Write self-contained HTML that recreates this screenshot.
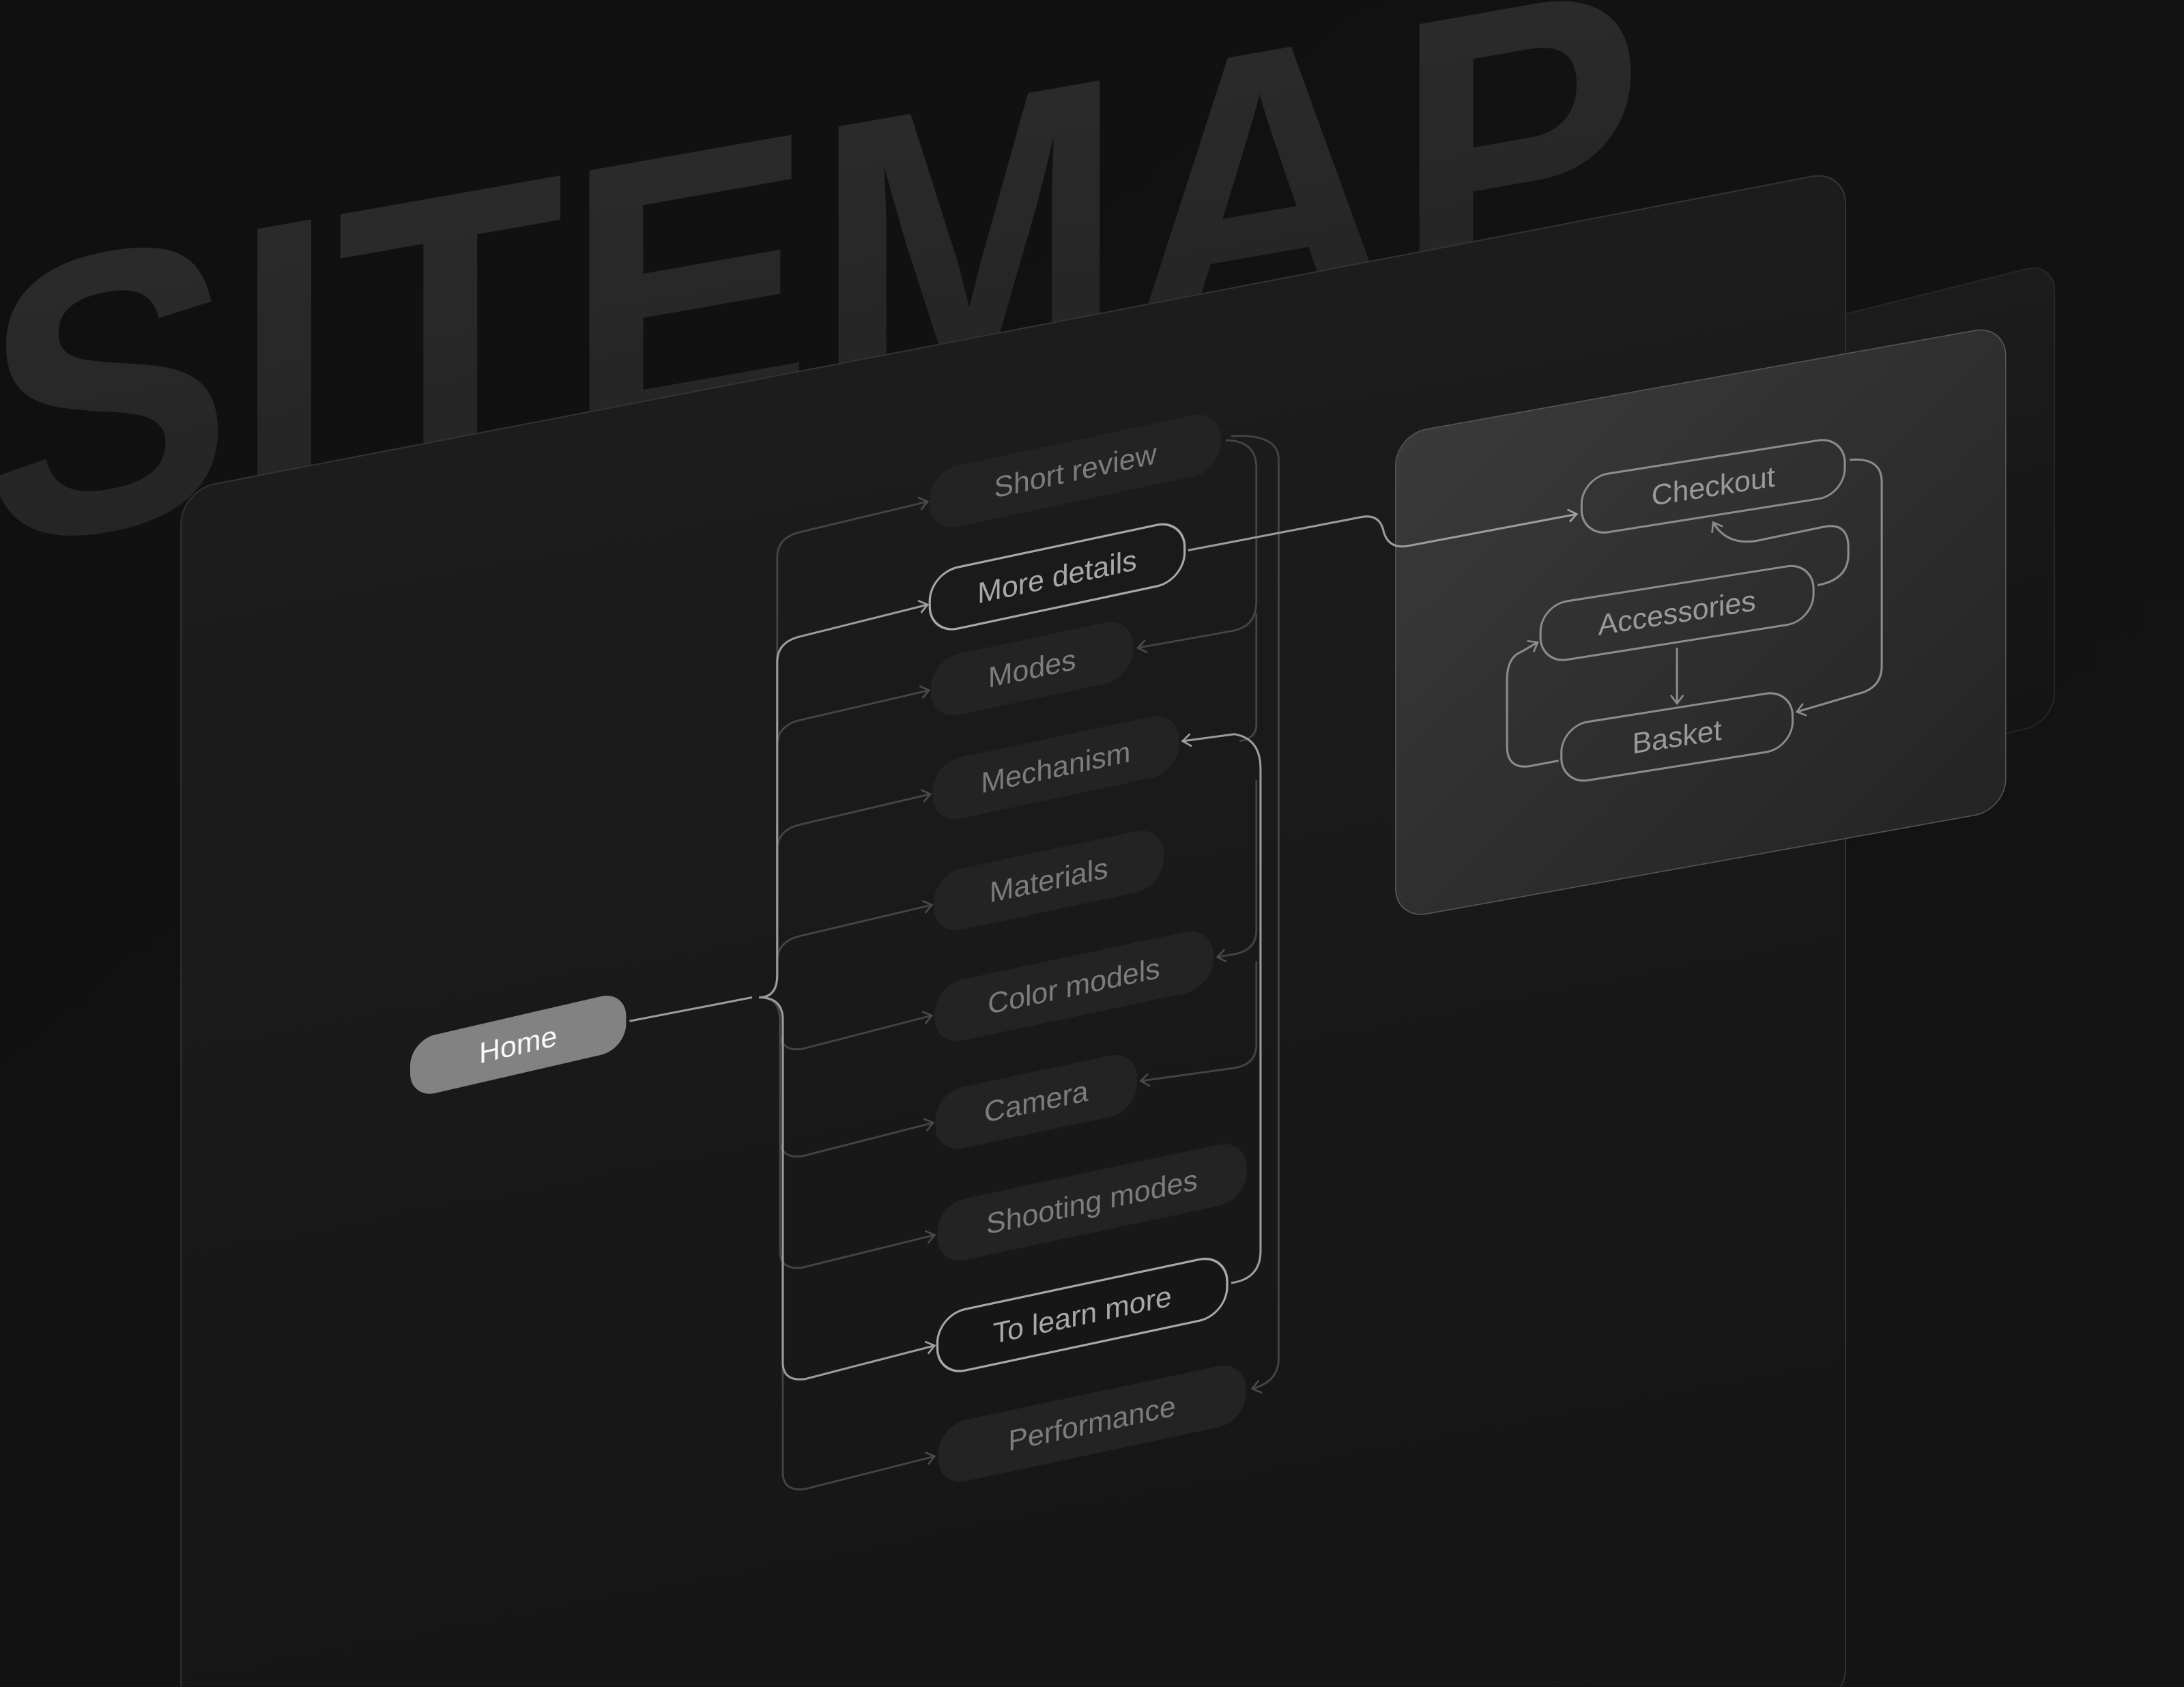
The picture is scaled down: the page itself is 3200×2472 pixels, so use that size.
<!DOCTYPE html>
<html><head><meta charset="utf-8"><style>
html,body{margin:0;padding:0;background:#111;width:3200px;height:2472px;overflow:hidden;}
svg{display:block;}
text{font-family:"Liberation Sans",sans-serif;}
</style></head><body>
<svg width="3200" height="2472" viewBox="0 0 1568 1211" xmlns="http://www.w3.org/2000/svg">
<defs>
<linearGradient id="bg" x1="0" y1="0" x2="1" y2="1"><stop offset="0" stop-color="#101010"/><stop offset="1" stop-color="#141414"/></linearGradient>
<linearGradient id="txt" x1="0" y1="0" x2="0" y2="1"><stop offset="0" stop-color="#2c2c2c"/><stop offset="1" stop-color="#232323"/></linearGradient>
<linearGradient id="panel" x1="0" y1="0" x2="0" y2="1"><stop offset="0" stop-color="#1c1c1c"/><stop offset="1" stop-color="#151515"/></linearGradient>
<linearGradient id="card" x1="0" y1="0" x2="1" y2="1"><stop offset="0" stop-color="#3a3a3a"/><stop offset="1" stop-color="#242424"/></linearGradient>
<linearGradient id="back" x1="0" y1="0" x2="0" y2="1"><stop offset="0" stop-color="#1c1c1c"/><stop offset="1" stop-color="#141414"/></linearGradient>
<marker id="ad" markerUnits="userSpaceOnUse" markerWidth="12" markerHeight="12" refX="7" refY="5" orient="auto" viewBox="0 0 12 10"><path d="M1,0.5 L7,5 L1,9.5" fill="none" stroke="#4a4a4a" stroke-width="1.3"/></marker>
<marker id="al" markerUnits="userSpaceOnUse" markerWidth="12" markerHeight="12" refX="7" refY="5" orient="auto" viewBox="0 0 12 10"><path d="M1,0.5 L7,5 L1,9.5" fill="none" stroke="#a0a0a0" stroke-width="1.3"/></marker>
<marker id="ac" markerUnits="userSpaceOnUse" markerWidth="12" markerHeight="12" refX="7" refY="5" orient="auto" viewBox="0 0 12 10"><path d="M1,0.5 L7,5 L1,9.5" fill="none" stroke="#8c8c8c" stroke-width="1.3"/></marker>
</defs>
<rect width="1568" height="1211" fill="url(#bg)"/>

<!-- SITEMAP title -->
<g transform="translate(-12,395) skewY(-10)">
<text x="0" y="0" font-size="285" font-weight="bold" fill="url(#txt)" textLength="1192" lengthAdjust="spacingAndGlyphs">SITEMAP</text>
</g>

<!-- back panel -->
<g transform="translate(1178,262) skewY(-14)">
<rect x="0" y="0" width="297" height="330" rx="20" fill="url(#back)" stroke="#262626" stroke-width="1"/>
</g>

<!-- main panel -->
<g transform="translate(130,352) skewY(-10.9)">
<rect x="0" y="0" width="1195" height="1100" rx="24" fill="url(#panel)" stroke="#333" stroke-width="1"/>
</g>

<!-- checkout card -->
<g transform="translate(1002,312) skewY(-10.2)">
<rect x="0" y="0" width="438" height="348" rx="22" fill="url(#card)" stroke="#555" stroke-width="0.8"/>
</g>

<!-- left branches (dark) -->
<g fill="none" stroke="#444" stroke-width="1.4">
<path d="M545,716 Q558,716 558,700 V400 Q558,386 574,382 L666,360" marker-end="url(#ad)"/>
<path d="M545,716 Q558,716 558,700 V535 Q558,521 574,517 L667,495.5" marker-end="url(#ad)"/>
<path d="M545,716 Q558,716 558,700 V610 Q558,596 574,592 L668,570" marker-end="url(#ad)"/>
<path d="M545,716 Q558,716 558,700 V690 Q558,676 574,672 L669,649.6" marker-end="url(#ad)"/>
<path d="M545,716 Q560,716 560,732 V741 Q560,755 576,753 L669,729" marker-end="url(#ad)"/>
<path d="M545,716 Q560,716 560,732 V818 Q560,832 576,830 L670,806" marker-end="url(#ad)"/>
<path d="M545,716 Q560,716 560,732 V898 Q560,912 576,910 L671,886.6" marker-end="url(#ad)"/>
<path d="M545,716 Q562,716 562,732 V1057 Q562,1071 578,1069 L671,1045.5" marker-end="url(#ad)"/>
</g>
<!-- right connectors (dark) -->
<g fill="none" stroke="#444" stroke-width="1.4">
<path d="M880,316 Q902,316 902,336 V432 Q902,450 884,453 L817,465" marker-end="url(#ad)"/>
<path d="M884,313 Q918,311 918,330 V975 Q918,992 899,997" marker-end="url(#ad)"/>
<path d="M902,440 V520 Q902,530 890,532"/>
<path d="M902,560 V668 Q902,682 886,685 L874,687" marker-end="url(#ad)"/>
<path d="M902,690 V750 Q902,765 884,767 L819,776" marker-end="url(#ad)"/>
</g>
<!-- bright connectors -->
<g fill="none" stroke="#9c9c9c" stroke-width="1.5">
<path d="M452,733 L540,716"/>
<path d="M545,716 Q558,716 558,700 V475 Q558,461 574,457 L666,434" marker-end="url(#al)"/>
<path d="M545,716 Q562,716 562,732 V978 Q562,992 578,990 L671,966" marker-end="url(#al)"/>
<path d="M884,921 Q905,918 905,898 V552 Q905,530 886,527 L849,532" marker-end="url(#al)"/>
<path d="M853,395 L978,371 Q990,369 993,380 Q996,394 1010,392 L1132,369" marker-end="url(#al)"/>
</g>

<!-- pills -->
<g font-size="21" text-anchor="middle">
<g transform="translate(772,338) skewY(-12)"><rect x="-104.5" y="-22" width="209" height="44" rx="20" fill="#232323"/><text x="0" y="7" fill="#7c7c7c">Short review</text></g>
<g transform="translate(759,414) skewY(-12)"><rect x="-91.5" y="-22" width="183" height="44" rx="20" fill="#1a1a1a" stroke="#a8a8a8" stroke-width="1.6"/><text x="0" y="7" fill="#a8a8a8">More details</text></g>
<g transform="translate(741,480) skewY(-12)"><rect x="-72.5" y="-22" width="145" height="44" rx="20" fill="#232323"/><text x="0" y="7" fill="#7c7c7c">Modes</text></g>
<g transform="translate(758,551) skewY(-12)"><rect x="-88.5" y="-22" width="177" height="44" rx="20" fill="#232323"/><text x="0" y="7" fill="#7c7c7c">Mechanism</text></g>
<g transform="translate(753,632) skewY(-12)"><rect x="-82.5" y="-22" width="165" height="44" rx="20" fill="#232323"/><text x="0" y="7" fill="#7c7c7c">Materials</text></g>
<g transform="translate(771,708) skewY(-12)"><rect x="-100" y="-22" width="200" height="44" rx="20" fill="#232323"/><text x="0" y="7" fill="#7c7c7c">Color models</text></g>
<g transform="translate(744,791) skewY(-12)"><rect x="-72.5" y="-22" width="145" height="44" rx="20" fill="#232323"/><text x="0" y="7" fill="#7c7c7c">Camera</text></g>
<g transform="translate(784,863) skewY(-12)"><rect x="-111" y="-22" width="222" height="44" rx="20" fill="#232323"/><text x="0" y="7" fill="#7c7c7c">Shooting modes</text></g>
<g transform="translate(777,944) skewY(-12)"><rect x="-104" y="-22" width="208" height="44" rx="20" fill="#161616" stroke="#a8a8a8" stroke-width="1.6"/><text x="0" y="7" fill="#a8a8a8">To learn more</text></g>
<g transform="translate(784,1022) skewY(-12)"><rect x="-110.5" y="-22" width="221" height="44" rx="20" fill="#232323"/><text x="0" y="7" fill="#7c7c7c">Performance</text></g>
<g transform="translate(372,750) skewY(-13)"><rect x="-77.5" y="-21" width="155" height="42" rx="18" fill="#828282"/><text x="0" y="7" fill="#fafafa">Home</text></g>
</g>

<!-- checkout card content -->
<g fill="none" stroke="#8c8c8c" stroke-width="1.5">
<path d="M1305,420 Q1327,416 1327,398 V393 Q1327,375 1310,378 L1262,388 Q1240,392 1230,375" marker-end="url(#ac)"/>
<path d="M1328,330 Q1351,328 1351,346 V478 Q1351,494 1334,498 L1290,511" marker-end="url(#ac)"/>
<path d="M1119,546 L1098,550 Q1082,552 1082,536 V488 Q1082,472 1092,468 L1104,461" marker-end="url(#ac)"/>
<path d="M1204,465 V505" marker-end="url(#ac)"/>
</g>
<g font-size="21" text-anchor="middle">
<g transform="translate(1230,349) skewY(-9)"><rect x="-94.5" y="-21" width="189" height="42" rx="19" fill="none" stroke="#8c8c8c" stroke-width="1.5"/><text x="0" y="7" fill="#9a9a9a">Checkout</text></g>
<g transform="translate(1204,440) skewY(-9)"><rect x="-98" y="-21" width="196" height="42" rx="19" fill="none" stroke="#8c8c8c" stroke-width="1.5"/><text x="0" y="7" fill="#9a9a9a">Accessories</text></g>
<g transform="translate(1204,529) skewY(-9)"><rect x="-83" y="-21" width="166" height="42" rx="19" fill="none" stroke="#8c8c8c" stroke-width="1.5"/><text x="0" y="7" fill="#9a9a9a">Basket</text></g>
</g>
</svg>
</body></html>
